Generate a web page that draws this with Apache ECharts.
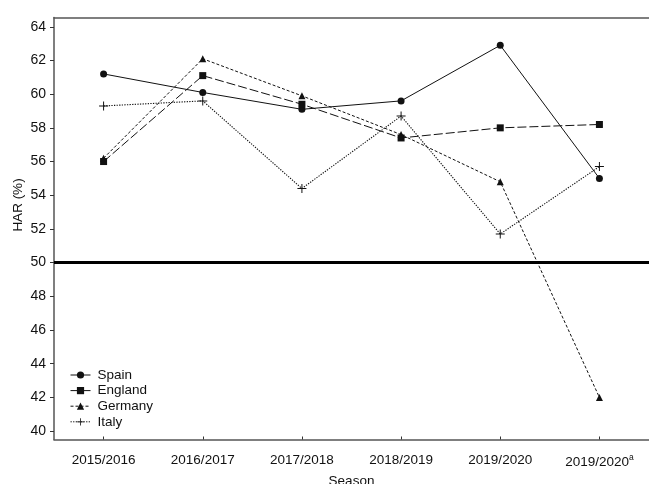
<!DOCTYPE html>
<html>
<head>
<meta charset="utf-8">
<script src="https://cdn.jsdelivr.net/npm/echarts@6/dist/echarts.min.js"></script>
<style>
  html, body { margin: 0; padding: 0; background: #fff; }
  #chart { width: 649px; height: 484px; }
</style>
</head>
<body>
<div id="chart"></div>
<script>
// Seasons (the trailing "a" is drawn as a superscript footnote mark)
const seasons = ['2015/2016', '2016/2017', '2017/2018', '2018/2019', '2019/2020', '2019/2020a'];

// Home advantage ratio (%) per league
const spain   = [61.2, 60.1, 59.1, 59.6, 62.9, 55.0];
const england = [56.0, 61.1, 59.4, 57.4, 58.0, 58.2];
const germany = [56.2, 62.1, 59.9, 57.6, 54.8, 42.0];
const italy   = [59.3, 59.6, 54.4, 58.7, 51.7, 55.7];

const yTicks = [40, 42, 44, 46, 48, 50, 52, 54, 56, 58, 60, 62, 64];
const referenceLevel = 50;

const FONT = 'Liberation Sans, Arial, sans-serif';
const INK = '#111';
const plusSymbol = 'path://M4.45,0H5.55V4.45H10V5.55H5.55V10H4.45V5.55H0V4.45H4.45Z';

function lineSeries(name, data, symbol, size, dash, width) {
  return {
    name: name,
    type: 'line',
    data: data,
    symbol: symbol,
    symbolSize: size,
    showSymbol: true,
    itemStyle: { color: INK, borderWidth: 0 },
    lineStyle: { color: INK, width: width || 1, type: dash },
    emphasis: { disabled: true },
    animation: false,
    z: 3
  };
}

const series = [
  lineSeries('Spain', spain, 'circle', 7, 'solid'),
  lineSeries('England', england, 'rect', 7, [9, 3]),
  lineSeries('Germany', germany, 'triangle', 7, [3, 2]),
  lineSeries('Italy', italy, plusSymbol, 9, [1.3, 1.3], 1.1)
];

// Horizontal reference line at 50 %
series[0].markLine = {
  silent: true,
  symbol: ['none', 'none'],
  label: { show: false },
  animation: false,
  lineStyle: { color: '#000', width: 3, type: 'solid' },
  data: [{ yAxis: referenceLevel }]
};

const chart = echarts.init(document.getElementById('chart'), null, { renderer: 'canvas' });

chart.setOption({
  backgroundColor: '#fff',
  animation: false,
  textStyle: { fontFamily: FONT },
  grid: { left: 54, right: 0, top: 17.5, bottom: 44.5, containLabel: false, outerBoundsMode: 'none' },
  legend: {
    orient: 'vertical',
    left: 70,
    top: 368,
    padding: 0,
    itemWidth: 20,
    itemHeight: 9,
    itemGap: 1.6,
    selectedMode: false,
    lineStyle: { width: 1 },
    textStyle: { fontFamily: FONT, fontSize: 13.5, color: INK, lineHeight: 13, padding: [0, 0, 0, 2] },
    data: ['Spain', 'England', 'Germany', 'Italy']
  },
  xAxis: [
    {
      type: 'category',
      data: seasons,
      boundaryGap: true,
      position: 'bottom',
      axisLine: { show: true, lineStyle: { color: '#555', width: 1.5 } },
      axisTick: { show: true, inside: true, length: 3, alignWithLabel: true, interval: 0, lineStyle: { color: '#333' } },
      axisLabel: {
        interval: 0,
        margin: 13.5,
        fontFamily: FONT,
        fontSize: 13.5,
        color: INK,
        formatter: function (v) {
          if (/a$/.test(v)) return '{b|' + v.slice(0, -1) + '}{s|a}';
          return '{b|' + v + '}';
        },
        rich: {
          b: { fontFamily: FONT, fontSize: 13.5, color: INK },
          s: { fontFamily: FONT, fontSize: 8.5, color: INK, verticalAlign: 'bottom', padding: [0, 0, 9, 0] }
        }
      },
      name: 'Season',
      nameLocation: 'middle',
      nameGap: 34,
      nameTextStyle: { fontFamily: FONT, fontSize: 13.5, color: INK }
    },
    {
      type: 'category',
      data: seasons,
      position: 'top',
      axisLine: { show: true, lineStyle: { color: '#555', width: 1.5 } },
      axisTick: { show: false },
      axisLabel: { show: false }
    }
  ],
  yAxis: {
    type: 'value',
    min: 39.5,
    max: 64.55,
    splitLine: { show: false },
    axisLine: { show: true, lineStyle: { color: '#555', width: 1.5 } },
    axisTick: { show: true, length: 4, customValues: yTicks, lineStyle: { color: '#333' } },
    axisLabel: { margin: 8, fontFamily: FONT, fontSize: 14, color: INK, customValues: yTicks }
  },
  graphic: [{
    type: 'text',
    x: 18,
    y: 205,
    rotation: Math.PI / 2,
    style: {
      text: 'HAR (%)',
      fontFamily: FONT,
      fontSize: 13.5,
      fill: INK,
      align: 'center',
      verticalAlign: 'middle'
    }
  }],
  series: series
});
</script>
</body>
</html>
